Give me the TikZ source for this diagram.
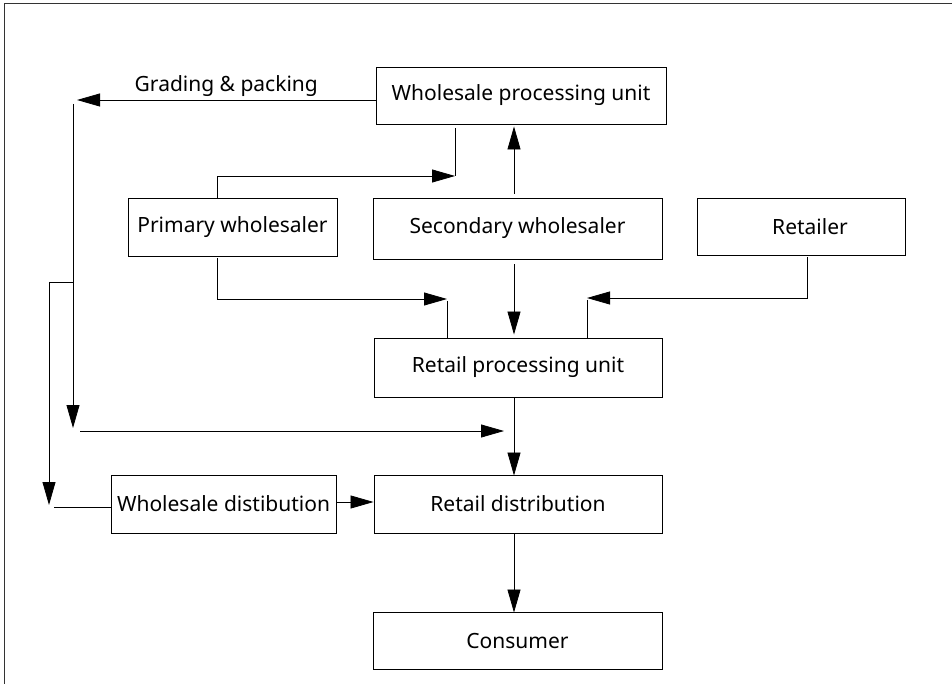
\documentclass[tikz,border=0pt]{standalone}
\usepackage{fontspec}
\setmainfont{Noto Sans}
\usetikzlibrary{arrows.meta}
\tikzset{
  box/.style={draw, line width=0.9pt, inner sep=0pt, font=\fontsize{21}{24}\selectfont},
  conn/.style={line width=0.8pt},
  arr/.style={conn, -{Triangle[length=23pt,width=13pt]}},
}
\begin{document}
\begin{tikzpicture}[x=1pt,y=-1pt]
\useasboundingbox (0,0) rectangle (952,684);
\draw[line width=1.3pt, black!80] (4.5,684) -- (4.5,3.5) -- (952,3.5);
% boxes
\node[box, minimum width=290pt, minimum height=57pt] (wpu) at (521,95.5) {Wholesale processing unit};
\node[box, minimum width=209pt, minimum height=58pt] (pw) at (232.5,227) {Primary wholesaler};
\node[box, minimum width=289pt, minimum height=61pt] (sw) at (517.5,228.5) {Secondary wholesaler};
\node[box, minimum width=208pt, minimum height=57pt] (ret) at (801,226.5) {\hspace*{18pt}Retailer};
\node[box, minimum width=288pt, minimum height=59pt] (rpu) at (518,367.5) {Retail processing unit};
\node[box, minimum width=225pt, minimum height=58pt] (wd) at (223.5,504) {Wholesale distibution};
\node[box, minimum width=288pt, minimum height=58pt] (rd) at (518,504) {Retail distribution};
\node[box, minimum width=289pt, minimum height=57pt] (con) at (517.5,640.5) {Consumer};
% coordinates
\coordinate (gp) at (77,100);
\coordinate (lt) at (73,104);
\coordinate (lb) at (73,428);
\coordinate (br) at (73,282);
\coordinate (ob) at (49,282);
\coordinate (obe) at (49,505);
\coordinate (hs) at (80,431);
\coordinate (he) at (504,431);
\coordinate (ws) at (54,507);
\coordinate (c1) at (455,176);
\coordinate (c2) at (447,299);
\coordinate (c3) at (447,301);
\coordinate (c4) at (587,298);
\coordinate (c5) at (587,300);
% connectors
\draw[arr] (wpu.west |- gp) -- (gp) node[pos=0.5, above=0pt, font=\fontsize{21}{24}\selectfont] {Grading \& packing};
\draw[arr] (lt) -- (lb);
\draw[arr] (hs) -- (he);
\draw[conn] (br) -- (ob);
\draw[arr] (ob) -- (obe);
\draw[conn] (ws) -- (ws -| wd.west);
\draw[arr] (wd.east |- 0,502) -- (rd.west |- 0,502);
\draw[conn] ([yshift=-4pt]wpu.south -| c1) -- (c1);
\draw[arr] (pw.north -| 217,0) |- (c1);
\draw[arr] ([yshift=4pt]sw.north -| 514,0) -- ([yshift=-2pt]wpu.south -| 514,0);
\draw[arr] ([yshift=-2pt]pw.south -| 217,0) |- (c2);
\draw[conn] (c3) -- (rpu.north -| c3);
\draw[arr] ([yshift=-5pt]sw.south -| 514,0) -- ([yshift=3pt]rpu.north -| 514,0);
\draw[arr] ([yshift=-2pt]ret.south -| 807,0) |- (c4);
\draw[conn] (c5) -- (rpu.north -| c5);
\draw[arr] (rpu.south -| 514,0) -- ([yshift=-1pt]rd.north -| 514,0);
\draw[arr] (rd.south -| 514,0) -- ([yshift=-1pt]con.north -| 514,0);
\end{tikzpicture}
\end{document}
